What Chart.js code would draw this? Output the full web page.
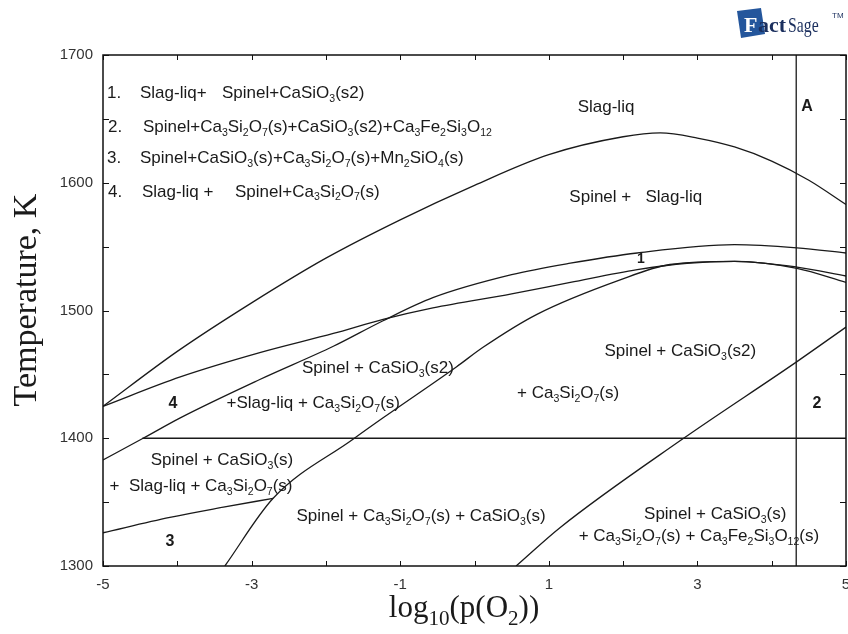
<!DOCTYPE html>
<html><head><meta charset="utf-8">
<script src="https://cdn.jsdelivr.net/npm/chart.js@4.4.1/dist/chart.umd.min.js"></script>
<style>html,body{margin:0;padding:0;background:#fff;}canvas{display:block;}</style>
</head><body>
<canvas id="c" width="848" height="634"></canvas>
<script>
// ---- data (log10 pO2, temperature K) ----
const liquidusX = [-5, -4, -3, -2, -1, 0, 1, 2, 2.5, 3, 3.5, 4, 4.5, 5];
const liquidusT = [1425, 1468, 1506, 1541, 1571, 1598, 1622, 1636, 1639, 1635, 1628, 1617, 1602, 1583];

const curveBX = [-5, -4.46, -3.96, -2.89, -1.9, -1.23, -0.56, 0.5, 1.29, 2.19, 3.5, 4.34, 5];
const curveBT = [1383, 1400, 1416, 1446, 1472, 1492, 1510, 1528, 1537, 1545, 1551.5, 1549, 1545];

const curveCX = [-5, -3.96, -2.89, -1.9, -1.23, -0.56, 0.5, 1.29, 2.19, 2.86, 3.5, 4.34, 5];
const curveCT = [1425, 1448, 1467, 1482, 1493, 1502, 1513, 1522, 1532, 1537, 1538.5, 1534, 1527];

const curveDX = [-3.36, -2.71, -1.64, -1.23, -0.24, 0.11, 0.84, 1.96, 2.63, 3.5, 4.34, 5];
const curveDT = [1300, 1353, 1399, 1416, 1456, 1471, 1497, 1524, 1536, 1538.5, 1533, 1522];

const curveEX = [-5, -4.1, -3.38, -2.71];
const curveET = [1326, 1338, 1346, 1353];

const curveFX = [0.56, 1.15, 2.79, 4.34, 5];
const curveFT = [1300, 1330, 1399, 1460, 1487];

const isothermX = [-4.47, 5];
const isothermT = [1400, 1400];

const limitX = [4.33, 4.33];
const limitT = [1300, 1700];

const xTickValues = [-5, -3, -1, 1, 3, 5];
const yTickValues = [1300, 1400, 1500, 1600, 1700];

// ---- text annotations (data coordinates) ----
const legendNotes = [
  ['1.', -4.946, 1671], ['Slag-liq+', -4.502, 1671], ['Spinel+CaSiO_{3}(s2)', -3.398, 1671],
  ['2.', -4.933, 1644.5], ['Spinel+Ca_{3}Si_{2}O_{7}(s)+CaSiO_{3}(s2)+Ca_{3}Fe_{2}Si_{3}O_{12}', -4.462, 1644.5],
  ['3.', -4.946, 1620], ['Spinel+CaSiO_{3}(s)+Ca_{3}Si_{2}O_{7}(s)+Mn_{2}SiO_{4}(s)', -4.502, 1620],
  ['4.', -4.933, 1594], ['Slag-liq +', -4.475, 1594], ['Spinel+Ca_{3}Si_{2}O_{7}(s)', -3.223, 1594]
];
const regionNotes = [
  ['Slag-liq', 1.77, 1660],
  ['Spinel +   Slag-liq', 2.17, 1590],
  ['Spinel + CaSiO_{3}(s2)', -1.30, 1456],
  ['+Slag-liq + Ca_{3}Si_{2}O_{7}(s)', -2.17, 1428.5],
  ['Spinel + CaSiO_{3}(s2)', 2.77, 1469],
  ['+ Ca_{3}Si_{2}O_{7}(s)', 1.26, 1436],
  ['Spinel + CaSiO_{3}(s)', -3.40, 1384],
  ['+  Slag-liq + Ca_{3}Si_{2}O_{7}(s)', -3.68, 1363.5],
  ['Spinel + Ca_{3}Si_{2}O_{7}(s) + CaSiO_{3}(s)', -0.72, 1340],
  ['Spinel + CaSiO_{3}(s)', 3.24, 1341.6],
  ['+ Ca_{3}Si_{2}O_{7}(s) + Ca_{3}Fe_{2}Si_{3}O_{12}(s)', 3.02, 1324.4]
];
const regionNumbers = [['A', 4.475, 1661], ['4', -4.06, 1428.5], ['2', 4.61, 1428.5], ['3', -4.10, 1320.5], ['1', 2.24, 1541]];

const SANS = '"Liberation Sans", Arial, sans-serif';
const SERIF = '"Liberation Serif", "Times New Roman", serif';

function pts(xs, ys) { return xs.map((x, i) => ({ x: x, y: ys[i] })); }
function lineDs(xs, ys, straight) {
  return {
    data: pts(xs, ys), showLine: true, borderColor: '#1a1a1a', borderWidth: 1.3,
    pointRadius: 0, fill: false,
    cubicInterpolationMode: straight ? 'default' : 'monotone', tension: 0
  };
}

function richParts(s) {
  const out = []; const re = /_\{([^}]*)\}/g; let last = 0, m;
  while ((m = re.exec(s))) {
    if (m.index > last) out.push({ t: s.slice(last, m.index), sub: false });
    out.push({ t: m[1], sub: true }); last = re.lastIndex;
  }
  if (last < s.length) out.push({ t: s.slice(last), sub: false });
  return out;
}
function drawRich(ctx, s, px, py, o) {
  const size = o.size, fam = o.family || SANS, wt = o.bold ? 'bold ' : '';
  const subSize = size * (o.subScale || 0.62);
  const parts = richParts(s);
  let total = 0;
  parts.forEach(p => { ctx.font = wt + (p.sub ? subSize : size) + 'px ' + fam; p.w = ctx.measureText(p.t).width; total += p.w; });
  let x = o.align === 'center' ? px - total / 2 : px;
  const base = py + size * 0.36;
  ctx.textAlign = 'left'; ctx.textBaseline = 'alphabetic';
  ctx.fillStyle = o.color || '#1a1a1a';
  parts.forEach(p => {
    ctx.font = wt + (p.sub ? subSize : size) + 'px ' + fam;
    ctx.fillText(p.t, x, p.sub ? base + size * (o.subDrop || 0.22) : base);
    x += p.w;
  });
}

const decor = {
  id: 'decor',
  afterDatasetsDraw(chart) {
    const ctx = chart.ctx, a = chart.chartArea, xs = chart.scales.x, ys = chart.scales.y;
    ctx.save();
    // frame
    ctx.strokeStyle = '#111'; ctx.lineWidth = 1.5;
    ctx.strokeRect(a.left, a.top, a.right - a.left, a.bottom - a.top);
    // inward ticks
    ctx.lineWidth = 1;
    for (let v = -5; v <= 5; v++) {
      const p = Math.round(xs.getPixelForValue(v)) + 0.5;
      ctx.beginPath(); ctx.moveTo(p, a.bottom); ctx.lineTo(p, a.bottom - 5);
      ctx.moveTo(p, a.top); ctx.lineTo(p, a.top + 5); ctx.stroke();
    }
    for (let v = 1300; v <= 1700; v += 50) {
      const p = Math.round(ys.getPixelForValue(v)) + 0.5;
      ctx.beginPath(); ctx.moveTo(a.left, p); ctx.lineTo(a.left + 6, p);
      ctx.moveTo(a.right, p); ctx.lineTo(a.right - 6, p); ctx.stroke();
    }
    // annotations
    legendNotes.forEach(n => drawRich(ctx, n[0], xs.getPixelForValue(n[1]), ys.getPixelForValue(n[2]), { size: 17, align: 'left' }));
    regionNotes.forEach(n => drawRich(ctx, n[0], xs.getPixelForValue(n[1]), ys.getPixelForValue(n[2]), { size: 17, align: 'center' }));
    regionNumbers.forEach(n => drawRich(ctx, n[0], xs.getPixelForValue(n[1]), ys.getPixelForValue(n[2]), { size: n[0] === '1' ? 14 : 16, bold: true, align: 'center' }));
    // axis titles
    drawRich(ctx, 'log_{10}(p(O_{2}))', 464, 606, { size: 31, family: SERIF, align: 'center', subScale: 0.68, subDrop: 0.25 });
    ctx.save(); ctx.translate(24, 300); ctx.rotate(-Math.PI / 2);
    drawRich(ctx, 'Temperature, K', 0, 0, { size: 34, family: SERIF, align: 'center' });
    ctx.restore();
    // logo
    ctx.fillStyle = '#24569c';
    ctx.beginPath(); ctx.moveTo(737, 11); ctx.lineTo(761, 8); ctx.lineTo(765, 34); ctx.lineTo(741, 38); ctx.closePath(); ctx.fill();
    ctx.fillStyle = '#ffffff'; ctx.font = 'bold 22px ' + SERIF; ctx.textBaseline = 'alphabetic';
    ctx.fillText('F', 744, 32);
    ctx.fillStyle = '#1b2f5e'; ctx.fillText('act', 758, 32);
    ctx.save(); ctx.translate(788, 32); ctx.scale(0.75, 1);
    ctx.font = '21px ' + SERIF; ctx.fillText('Sage', 0, 0); ctx.restore();
    ctx.font = '8px ' + SANS; ctx.fillText('TM', 832, 18);
    ctx.restore();
  }
};

new Chart(document.getElementById('c'), {
  type: 'scatter',
  data: {
    datasets: [
      lineDs(liquidusX, liquidusT), lineDs(curveBX, curveBT), lineDs(curveCX, curveCT),
      lineDs(curveDX, curveDT), lineDs(curveEX, curveET), lineDs(curveFX, curveFT),
      lineDs(isothermX, isothermT, true), lineDs(limitX, limitT, true)
    ]
  },
  options: {
    responsive: false, animation: false, devicePixelRatio: 1,
    layout: { padding: { top: 55, right: 2, left: 0, bottom: 0 } },
    plugins: { legend: { display: false }, tooltip: { enabled: false } },
    scales: {
      x: {
        type: 'linear', min: -5, max: 5,
        afterBuildTicks: s => { s.ticks = xTickValues.map(v => ({ value: v })); },
        ticks: { autoSkip: false, maxRotation: 0, padding: 10, color: '#333', font: { family: SANS, size: 15 }, callback: v => String(v) },
        grid: { display: false, drawTicks: false }, border: { display: false },
        afterFit: s => { s.height = 68; s.paddingLeft = 0; s.paddingRight = 0; }
      },
      y: {
        type: 'linear', min: 1300, max: 1700,
        afterBuildTicks: s => { s.ticks = yTickValues.map(v => ({ value: v })); },
        ticks: { autoSkip: false, padding: 10, color: '#333', font: { family: SANS, size: 15 }, callback: v => String(v) },
        grid: { display: false, drawTicks: false }, border: { display: false },
        afterFit: s => { s.width = 103; s.paddingTop = 0; s.paddingBottom = 0; }
      }
    }
  },
  plugins: [decor]
});
</script>
</body></html>
